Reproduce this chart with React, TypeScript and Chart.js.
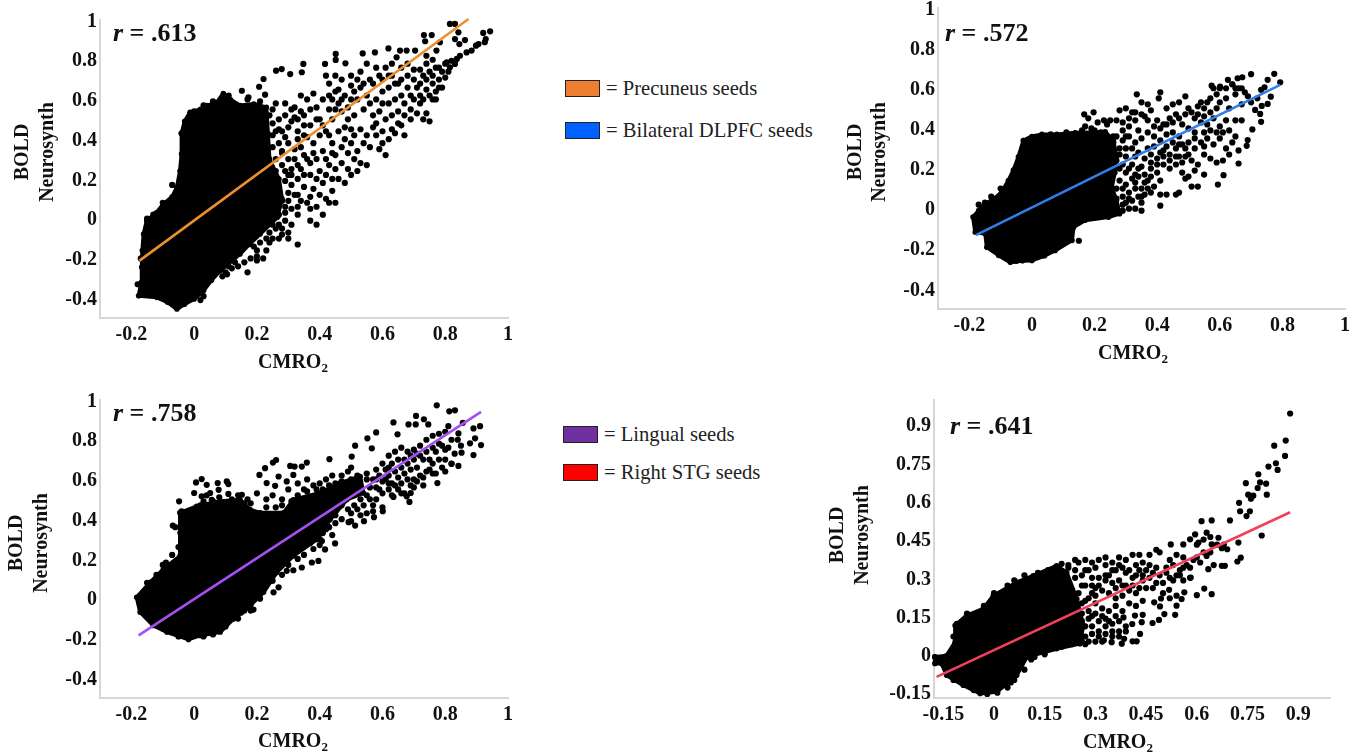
import React, { useEffect, useRef } from "react";
import { Chart, registerables } from "chart.js";

Chart.register(...registerables);

type Pair = number[];

const ticks02 = [-0.2, 0, 0.2, 0.4, 0.6, 0.8, 1];
const yTicks02 = [-0.4, -0.2, 0, 0.2, 0.4, 0.6, 0.8, 1];
const ticks015 = [-0.15, 0, 0.15, 0.3, 0.45, 0.6, 0.75, 0.9];

const legendLabels = ["= Precuneus seeds", "= Bilateral DLPFC seeds", "= Lingual seeds", "= Right STG seeds"];
const legendColors = ["#ed7d31", "#0061ff", "#7030a0", "#ff0000"];
const correlations = [".613", ".572", ".758", ".641"];

const p1LineX = [-0.174, 0.874];
const p1LineY = [-0.211, 1.005];
const p2LineX = [-0.179, 0.793];
const p2LineY = [-0.132, 0.617];
const p3LineX = [-0.177, 0.914];
const p3LineY = [-0.185, 0.94];
const p4LineX = [-0.17, 0.876];
const p4LineY = [-0.088, 0.557];

const p1Cloud: Pair[] = [[-.04,.43],[-.03,.49],[-.013,.535],[.02,.55],[.04,.57],[.07,.58],[.093,.63],[.115,.6],[.146,.57],[.19,.577],[.23,.56],[.235,.43],[.24,.3],[.27,.2],[.28,.1],[.265,.007],[.21,-.077],[.175,-.13],[.146,-.178],[.083,-.262],[.055,-.31],[.03,-.362],[0,-.404],[-.03,-.43],[-.055,-.455],[-.085,-.42],[-.119,-.396],[-.177,-.388],[-.168,-.32],[-.167,-.245],[-.165,-.16],[-.161,-.077],[-.151,-.01],[-.12,.03],[-.098,.074],[-.07,.11],[-.055,.158],[-.045,.24],[-.04,.326]];
const p1Dots: Pair[] = [[.943,.943],[.921,.935],[.929,.904],[.926,.888],[.906,.879],[.898,.871],[.884,.846],[.868,.837],[.847,.82],[.837,.804],[.82,.795],[.805,.787],[.815,.762],[.831,.779],[.863,.899],[.845,.879],[.842,.938],[.815,.98],[.831,.98],[.831,.904],[.757,.924],[.732,.924],[.736,.893],[.783,.888],[.772,.846],[.704,.846],[.677,.846],[.656,.846],[.645,.812],[.619,.857],[.576,.837],[.537,.832],[.451,.829],[.451,.799],[.482,.782],[.417,.779],[.348,.779],[.343,.737],[.306,.728],[.279,.753],[.261,.745],[.221,.703],[.207,.664],[.226,.624],[.152,.644],[.173,.611],
[.25,.55],[.27,.5],[.29,.58],[.31,.55],[.28,.44],[.3,.38],[.26,.3],[.29,.24],[.31,.17],[.27,.13],[.3,.09],[.33,.12],[.29,.03],[.31,-.03],[.28,-.08],[.33,-.13],[.3,.3],[.33,.44],[.34,.36],[.35,.52],[.36,.6],[.37,.47],[.34,.62],[.38,.63],[.39,.56],[.41,.6],[.43,.55],[.4,.5],[.42,.44],[.38,.38],[.36,.3],[.39,.3],[.41,.34],[.44,.38],[.37,.22],[.4,.24],[.43,.27],[.35,.16],[.38,.15],[.41,.18],[.44,.14],[.36,.08],[.39,.06],[.42,.1],[.37,-.01],[.39,-.03],[.41,.02],[.43,.68],[.45,.72],[.44,.6],[.42,.72],[.46,.65],[.48,.62],[.5,.67],[.52,.6],[.47,.54],[.49,.5],[.51,.52],[.53,.45],[.46,.44],[.48,.4],[.5,.38],[.52,.34],[.45,.32],[.47,.28],[.49,.25],[.46,.2],[.44,.2],[.54,.38],[.55,.27],[.52,.24],[.55,.42],[.54,.55],[.53,.74],[.55,.78],[.5,.72],[.47,.7],[.57,.68],[.59,.72],[.61,.76],[.63,.72],[.65,.68],[.58,.6],[.6,.64],[.62,.58],[.64,.6],[.66,.62],[.68,.66],[.7,.7],[.57,.52],[.59,.54],[.61,.5],[.63,.52],[.65,.48],[.67,.52],[.69,.55],[.58,.42],[.6,.44],[.62,.4],[.64,.43],[.67,.42],[.59,.35],[.61,.32],[.63,.78],[.66,.76],[.68,.72],[.7,.6],[.72,.58],[.73,.5],[.74,.53],[.75,.49],[.72,.75],[.74,.78],[.76,.8],[.78,.76],[.8,.78],[.72,.68],[.74,.7],[.76,.72],[.78,.7],[.72,.62],[.75,.62],[.77,.64],[.79,.66],[.8,.71],[.76,.6],[.74,.65],
[.32,.51],[.35,.42],[.32,.3],[.34,.25],[.33,.06],[.31,.22],[.28,.34],[.26,.44],[.24,.12],[.27,-.03],[.25,-.1],[.22,-.2],[.2,-.16],[.24,-.12],[.17,-.27],[.105,-.28],[.09,-.29],[.03,-.39],[.02,-.41],[-.07,.17],[-.04,.43],[-.17,-.2],[-.18,-.33],[-.15,.0],[-.13,.02],[-.1,.08],[.0,.54],[.03,.57],[.06,.59],[.11,.62],[.17,.6],[.21,.59],[-.02,.47],[.2,-.21],[.13,-.22],[.1,-.27],[.25,-.03],[.3,-.07]];
const p1Extra: Pair[] = [[.24,.52],[.26,.58],[.25,.48],[.27,.45],[.25,.42],[.27,.38],[.29,.41],[.25,.36],[.28,.33],[.26,.24],[.28,.27],[.3,.22],[.26,.18],[.29,.19],[.31,.25],[.32,.35],[.3,.46],[.31,.49],[.29,.52],[.33,.5],[.32,.56],[.34,.54],[.33,.4],[.35,.47],[.35,.32],[.33,.27],[.33,.2],[.35,.22],[.32,.12],[.28,.09],[.3,.13],[.34,.09],[.29,.06],[.31,.05],[.33,.02],[.27,.02],[.29,-.01],[.26,-.05],[.28,-.05],[.3,-.1],[.27,-.1],[.24,-.07],[.23,-.1],[.21,-.12],[.19,-.14],[.23,-.16],[.2,-.19],[.18,-.2],[.16,-.22],[.14,-.24],[.12,-.25],[.11,-.24],
[.37,.55],[.39,.5],[.41,.47],[.4,.42],[.43,.42],[.36,.41],[.38,.33],[.37,.28],[.42,.3],[.44,.33],[.39,.2],[.42,.22],[.45,.25],[.4,.12],[.43,.08],[.37,.11],[.37,.05],[.45,.08],[.44,.5],[.45,.55],[.43,.62],[.45,.64],[.46,.58],[.47,.6],[.49,.56],[.5,.6],[.51,.64],[.53,.66],[.55,.62],[.56,.7],[.54,.68],[.52,.7],[.48,.46],[.5,.45],[.51,.42],[.47,.36],[.49,.33],[.51,.3],[.53,.28],[.48,.18],[.5,.22],[.56,.58],[.57,.46],[.56,.36],[.58,.48],[.6,.58],[.62,.66],[.64,.68],[.66,.7],[.6,.7],[.58,.76],[.62,.72],[.67,.58],[.65,.54],[.63,.45],[.66,.47],[.6,.38],[.69,.62],[.71,.66],[.73,.72],[.75,.74],[.77,.76],[.7,.75],[.79,.74],[.81,.74],[.68,.78],[.74,.82],[.69,.5],[.71,.53],[.76,.68],[.78,.66],[.73,.6],[.77,.6]];

const p2Cloud: Pair[] = [[-.027,.34],[.0,.36],[.032,.37],[.08,.37],[.138,.378],[.19,.38],[.234,.383],[.26,.34],[.27,.26],[.265,.18],[.255,.108],[.27,.04],[.28,-.025],[.245,-.042],[.17,-.058],[.133,-.092],[.128,-.158],[.074,-.208],[.04,-.235],[0,-.258],[-.03,-.26],[-.069,-.267],[-.106,-.233],[-.144,-.192],[-.149,-.125],[-.181,-.117],[-.188,-.042],[-.17,-.01],[-.149,.025],[-.12,.05],[-.096,.083],[-.075,.14],[-.059,.192],[-.043,.258]];
const p2Dots: Pair[] = [[.774,.672],[.7,.67],[.793,.63],[.753,.642],[.743,.605],[.732,.592],[.763,.558],[.753,.522],[.734,.512],[.713,.492],[.729,.472],[.732,.433],[.704,.395],[.689,.342],[.686,.313],[.66,.225],[.612,.167],[.594,.12],[.626,.642],[.657,.65],[.672,.655],[.574,.613],[.601,.608],[.64,.62],[.65,.6],
[.167,.47],[.197,.48],[.21,.43],[.17,.41],[.19,.4],[.22,.38],[.24,.42],[.27,.44],[.28,.49],[.3,.5],[.32,.48],[.335,.57],[.35,.53],[.37,.52],[.36,.46],[.33,.44],[.31,.41],[.29,.39],[.34,.39],[.38,.49],[.41,.58],[.405,.55],[.43,.5],[.45,.52],[.47,.53],[.49,.56],[.4,.44],[.42,.42],[.44,.45],[.46,.47],[.48,.42],[.37,.38],[.39,.36],[.41,.34],[.43,.37],[.45,.38],[.47,.36],[.5,.4],[.52,.45],[.53,.51],[.55,.5],[.57,.55],[.58,.6],[.6,.6],[.6,.53],[.62,.55],[.63,.5],[.65,.57],[.66,.6],[.68,.58],[.67,.52],[.7,.53],[.72,.55],[.54,.43],[.56,.42],[.58,.45],[.6,.41],[.62,.44],[.65,.44],[.67,.44],[.5,.33],[.52,.3],[.54,.33],[.56,.35],[.58,.32],[.6,.35],[.62,.3],[.64,.33],[.65,.36],[.63,.27],[.66,.29],[.49,.26],[.51,.24],[.53,.22],[.55,.27],[.57,.25],[.59,.23],[.61,.24],[.46,.3],[.44,.27],[.42,.29],[.4,.25],[.38,.27],[.36,.25],[.34,.28],[.32,.3],[.3,.26],[.28,.3],[.46,.22],[.44,.2],[.42,.22],[.4,.18],[.38,.2],[.36,.17],[.34,.2],[.32,.22],[.3,.18],[.28,.2],[.48,.18],[.5,.16],[.52,.19],[.55,.17],[.53,.11],[.51,.11],[.49,.15],[.41,.14],[.39,.11],[.37,.14],[.35,.1],[.33,.13],[.31,.08],[.29,.1],[.47,.08],[.46,.07],[.43,.07],[.41,.07],[.38,.08],[.36,.07],[.34,.06],[.32,.04],[.3,.03],[.35,.03],[.41,.015],[.35,-.01],[.31,.0],[.29,.02],[.27,.05],
[-.17,.02],[-.13,.06],[-.15,.03],[.15,-.16],[.06,.37],[.11,.38],[.16,.39],[.2,.39],[.26,.36],[-.1,.1],[-.14,-.17],[-.05,-.26]];
const p2Extra: Pair[] = [[.26,.33],[.28,.27],[.29,.34],[.31,.36],[.33,.33],[.35,.35],[.3,.3],[.33,.26],[.27,.24],[.29,.22],[.31,.2],[.33,.17],[.35,.21],[.37,.3],[.39,.31],[.41,.28],[.43,.31],[.45,.33],[.47,.32],[.49,.3],[.38,.23],[.4,.22],[.42,.26],[.44,.24],[.46,.26],[.48,.23],[.36,.13],[.38,.16],[.34,.16],[.32,.15],[.3,.12],[.28,.14],[.27,.1],[.29,.06],[.31,.05],[.33,.1],[.35,.06],[.37,.1],[.27,.01],[.29,-.01],[.33,.0],[.3,.36],[.27,.36],[.29,.43],[.31,.45],[.33,.48],[.35,.47],[.37,.44],[.39,.41],[.41,.4],[.43,.42],[.45,.43],[.47,.45],[.49,.47],[.51,.48],[.53,.47],[.55,.46],[.57,.48],[.59,.5],[.5,.5],[.54,.53],[.56,.53],[.59,.57],[.62,.6],[.64,.62],[.67,.6],[.69,.56],[.52,.38],[.55,.38],[.57,.39],[.59,.38],[.61,.38],[.63,.39],[.48,.32],[.5,.27],[.52,.35],[.55,.31],[.47,.26],[.18,.45],[.23,.44],[.25,.44]];

const p3Cloud: Pair[] = [[-.045,.432],[.008,.465],[.083,.49],[.146,.498],[.178,.448],[.21,.432],[.285,.432],[.316,.498],[.401,.532],[.465,.582],[.529,.615],[.539,.532],[.486,.498],[.433,.398],[.391,.298],[.316,.215],[.263,.132],[.221,.032],[.178,-.035],[.125,-.102],[.083,-.168],[.019,-.185],[-.018,-.205],[-.087,-.168],[-.13,-.135],[-.172,-.068],[-.183,.007],[-.14,.082],[-.098,.148],[-.045,.215],[-.045,.332]];
const p3Dots: Pair[] = [[.773,.973],[.813,.943],[.831,.948],[.707,.92],[.732,.903],[.746,.877],[.683,.877],[.635,.887],[.706,.877],[.58,.837],[.648,.827],[.552,.807],[.513,.77],[.566,.757],[.502,.715],[.431,.702],[.359,.685],[.343,.665],[.306,.668],[.32,.665],[.261,.698],[.251,.685],[.226,.657],[.208,.623],[.269,.615],[.258,.568],[.231,.582],[.295,.59],[.316,.623],[.024,.602],[.006,.585],[.04,.573],[.075,.582],[.104,.59],[.109,.577],[.078,.548],[.051,.532],[0,.532],[.024,.515],[.109,.527],[-.048,.49],[.152,.523],[.056,.498],[-.068,.368],[-.09,.182],
[.911,.868],[.89,.857],[.856,.885],[.842,.832],[.81,.868],[.895,.807],[.879,.782],[.914,.773],[.89,.723],[.852,.735],[.842,.668],[.82,.678],[.775,.582],[.686,.487],[.677,.515],[.69,.532],[.635,.512],[.601,.44],[.573,.41],[.541,.39],[.513,.368],[.492,.385],[.449,.278],[.407,.29],[.417,.248],[.396,.19],[.375,.182],[.343,.157],[.316,.143],[.295,.14],[.269,.057],[.253,.032],[.189,-.055],
[.52,.62],[.55,.63],[.58,.65],[.6,.68],[.62,.72],[.64,.74],[.66,.76],[.68,.74],[.7,.75],[.72,.77],[.74,.8],[.76,.82],[.78,.83],[.8,.84],[.62,.62],[.64,.64],[.66,.66],[.68,.68],[.7,.7],[.72,.72],[.74,.74],[.76,.76],[.78,.78],[.8,.75],[.82,.8],[.84,.8],[.85,.77],[.78,.7],[.8,.7],[.76,.68],[.74,.64],[.72,.62],[.7,.6],[.68,.6],[.66,.58],[.64,.57],[.62,.55],[.6,.53],[.58,.5],[.56,.5],[.54,.47],[.52,.45],[.5,.43],[.55,.43],[.57,.47],[.59,.55],[.61,.6],[.63,.58],[.65,.55],[.67,.53],[.69,.57],[.71,.59],[.73,.61],[.75,.65],[.77,.63],
[.36,.6],[.38,.57],[.4,.58],[.42,.6],[.44,.62],[.47,.62],[.49,.64],[.5,.66],[.3,.55],[.33,.58],[.35,.55],[.28,.5],[.25,.52],[.23,.5],[.2,.53],[.18,.48],[.16,.48],[.12,.5],[.08,.51],[.03,.49],[.45,.42],[.47,.4],[.42,.35],[.44,.32],[.4,.3],[.38,.25],[.35,.22],[.33,.2],[.3,.17],[.28,.12]];
const p3Extra: Pair[] = [[.17,.5],[.14,.52],[.1,.47],[.06,.49],[.04,.52],[.02,.47],[.23,.46],[.26,.46],[.28,.47],[.31,.49],[.33,.52],[.36,.54],[.39,.55],[.41,.55],[.43,.57],[.45,.58],[.47,.59],[.5,.6],[.52,.58],[.55,.6],[.57,.6],[.59,.62],[.61,.65],[.63,.68],[.65,.7],[.67,.7],[.69,.72],[.71,.73],[.73,.7],[.75,.7],[.77,.74],[.79,.77],[.81,.76],[.83,.73],[.58,.56],[.6,.59],[.62,.58],[.55,.52],[.53,.5],[.51,.47],[.49,.45],[.47,.47],[.45,.38],[.43,.36],[.41,.33],[.4,.27],[.37,.28],[.34,.26],[.31,.22],[.29,.19],[.27,.16],[.25,.09],[.23,.07],[.21,.0],[.18,-.03],[.15,-.07],[.62,.66],[.58,.6],[.56,.56],[.63,.52],[.66,.53],[.7,.56],[.73,.57],[.76,.63],[.79,.66],[.82,.68],[.8,.64],[.71,.66],[.69,.65],[.67,.63],[.65,.61],[.6,.46],[.57,.44],[.53,.42],[.5,.39],[-.06,.36],[-.04,.44],[-.05,.26],[-.07,.22],[-.1,.17],[-.12,.12],[-.15,.08],[.1,-.14],[.06,-.18],[.03,-.19],[-.05,-.19],[-.1,-.15],[.14,-.1],[.16,-.06],[.18,-.06]];

const p4Cloud: Pair[] = [[-.175,-.01],[-.14,-.005],[-.115,.048],[-.115,.113],[-.081,.152],[-.032,.178],[-.002,.23],[.067,.282],[.116,.308],[.185,.347],[.215,.321],[.245,.217],[.264,.113],[.254,.042],[.185,.022],[.097,-.01],[.067,-.082],[.008,-.147],[-.041,-.153],[-.091,-.121],[-.14,-.082],[-.155,-.036],[-.175,-.036]];
const p4Dots: Pair[] = [[.876,.944],[.863,.838],[.829,.818],[.861,.778],[.834,.749],[.812,.736],[.839,.723],[.782,.706],[.745,.671],[.787,.674],[.805,.669],[.78,.652],[.807,.626],[.752,.626],[.767,.622],[.76,.61],[.725,.594],[.728,.561],[.757,.561],[.747,.542],[.698,.525],[.644,.525],[.614,.522],[.792,.466],[.723,.438],[.73,.379],[.72,.364],[.683,.347],[.674,.347],[.664,.457],[.69,.412],[.674,.416],[.644,.431],[.629,.477],[.605,.438],[.595,.47],[.58,.451],[.56,.431],[.523,.431],[.629,.386],[.634,.334],[.582,.301],[.644,.236],[.622,.258],[.6,.232],[.563,.243],[.555,.217],[.54,.191],[.536,.155],[.504,.158],[.488,.135],[.469,.123],[.491,.188],[.494,.219],[.474,.204],[.518,.253],[.422,.051],[.41,.051],[.378,.042],[.385,.061],[.432,.08],[.417,.152],[.44,.155],[.409,.119],[.437,.126],[.383,.145],[.348,.048],[.325,.055],
[.25,.36],[.27,.37],[.29,.36],[.31,.37],[.33,.38],[.35,.36],[.37,.38],[.39,.37],[.41,.39],[.43,.39],[.46,.39],[.48,.41],[.49,.4],[.52,.37],[.54,.39],[.56,.38],[.24,.33],[.27,.33],[.3,.34],[.33,.35],[.36,.33],[.38,.34],[.4,.33],[.42,.35],[.44,.36],[.46,.35],[.48,.34],[.51,.34],[.53,.35],[.55,.33],[.57,.35],[.59,.37],[.42,.31],[.44,.31],[.46,.3],[.48,.28],[.5,.28],[.52,.3],[.54,.31],[.56,.29],[.58,.34],[.29,.3],[.31,.3],[.33,.29],[.35,.28],[.37,.29],[.39,.27],[.41,.27],[.43,.26],[.45,.26],[.27,.27],[.3,.26],[.32,.25],[.34,.24],[.36,.22],[.38,.23],[.28,.22],[.3,.2],[.32,.18],[.34,.17],[.36,.19],[.38,.17],[.4,.2],[.42,.19],[.44,.21],[.29,.15],[.31,.13],[.33,.14],[.35,.12],[.37,.13],[.39,.11],[.27,.11],[.29,.08],[.31,.09],[.33,.08],[.35,.07],[.37,.09],[.39,.09],[.26,.16],[.28,.05],[.3,.05],[.32,.05],[.26,.05],[.24,.08],[.22,.06],[.2,.03],[.16,.02],
[.06,.29],[.09,.31],[.13,.32],[.16,.33],[.2,.355],[.22,.34],[.04,.27],[.0,.24],[-.03,.19],[-.08,.16],[-.11,.12],[-.12,.07],[.12,-.01],[.08,-.04],[.1,.0],[.05,-.11],[-.02,-.155],[-.06,-.14],[-.12,-.1]];
const p4Extra: Pair[] = [[.22,.35],[.24,.37],[.26,.31],[.28,.33],[.29,.27],[.24,.3],[.26,.27],[.25,.24],[.27,.21],[.29,.24],[.26,.2],[.28,.17],[.3,.23],[.31,.27],[.33,.31],[.35,.33],[.37,.35],[.39,.32],[.41,.3],[.34,.31],[.36,.26],[.38,.27],[.4,.25],[.42,.24],[.3,.16],[.32,.15],[.34,.13],[.36,.15],[.28,.14],[.26,.13],[.25,.09],[.27,.07],[.29,.11],[.31,.07],[.33,.11],[.35,.09],[.37,.07],[.25,.06],[.23,.04],[.21,.05],[.19,.04],[.27,.04],[.15,.0],[.13,.01],[.11,-.02],[.09,-.06],[.06,-.1],[.04,-.13],[.01,-.15],[.43,.33],[.45,.33],[.47,.32],[.49,.31],[.51,.32],[.53,.29],[.55,.31],[.44,.29],[.47,.26],[.5,.24],[.52,.22],[.54,.23],[.56,.34],[.58,.3],[.6,.38],[.62,.4],[.6,.43],[.62,.45],[.64,.46],[.66,.43],[.68,.43],[.64,.4],[.61,.36],[.65,.35]];

type TextMark = { x: number; y: number };
type Panel = {
  left: number; top: number; width: number; height: number;
  area: { left: number; top: number; right: number; bottom: number };
  xMin: number; xMax: number; yMin: number; yMax: number;
  xTicks: number[]; yTicks: number[];
  cloud: Pair[]; dots: Pair[]; lineX: number[]; lineY: number[]; lineColor: string;
  r: string; rPos: TextMark; boldX: number; neuroX: number; yMid: number; xMid: number; xBase: number;
};

const panels: Panel[] = [
  { left: 0, top: 0, width: 525, height: 380, area: { left: 100, top: 20, right: 508, bottom: 318 },
    xMin: -0.3, xMax: 1, yMin: -0.5, yMax: 1, xTicks: ticks02, yTicks: yTicks02,
    cloud: p1Cloud, dots: [...p1Dots, ...p1Extra], lineX: p1LineX, lineY: p1LineY, lineColor: "#ee8f2f",
    r: correlations[0], rPos: { x: 113, y: 41 }, boldX: 23, neuroX: 48, yMid: 152, xMid: 293, xBase: 368 },
  { left: 840, top: -12, width: 525, height: 382, area: { left: 938, top: 8, right: 1345, bottom: 309 },
    xMin: -0.3, xMax: 1, yMin: -0.5, yMax: 1, xTicks: ticks02, yTicks: yTicks02,
    cloud: p2Cloud, dots: [...p2Dots, ...p2Extra], lineX: p2LineX, lineY: p2LineY, lineColor: "#2f7fe8",
    r: correlations[1], rPos: { x: 945, y: 41 }, boldX: 856, neuroX: 880, yMid: 152, xMid: 1133, xBase: 359 },
  { left: 0, top: 385, width: 525, height: 369, area: { left: 100, top: 398, right: 508, bottom: 698 },
    xMin: -0.3, xMax: 1, yMin: -0.5, yMax: 1, xTicks: ticks02, yTicks: yTicks02,
    cloud: p3Cloud, dots: [...p3Dots, ...p3Extra], lineX: p3LineX, lineY: p3LineY, lineColor: "#a64ff0",
    r: correlations[2], rPos: { x: 113, y: 421 }, boldX: 17, neuroX: 42, yMid: 543, xMid: 293, xBase: 747 },
  { left: 820, top: 385, width: 545, height: 369, area: { left: 934, top: 398, right: 1330, bottom: 698 },
    xMin: -0.1775, xMax: 0.994, yMin: -0.171, yMax: 0.997, xTicks: ticks015, yTicks: ticks015,
    cloud: p4Cloud, dots: [...p4Dots, ...p4Extra], lineX: p4LineX, lineY: p4LineY, lineColor: "#f0405c",
    r: correlations[3], rPos: { x: 950, y: 434 }, boldX: 838, neuroX: 863, yMid: 535, xMid: 1118, xBase: 748 },
];

const SERIF = '"Liberation Serif", "Times New Roman", serif';

function toPoints(pairs: Pair[]) {
  return pairs.map(([x, y]) => ({ x, y }));
}

function PanelChart({ panel }: { panel: Panel }) {
  const ref = useRef<HTMLCanvasElement | null>(null);
  useEffect(() => {
    if (!ref.current) return;
    const { area, left, top, width, height } = panel;
    const textPlugin = {
      id: "panelText",
      beforeDraw(chart: any) {
        chart.scales.y.getLabelItems().forEach((item: any) => {
          if (!item.nudged) {
            item.options.translation[1] += 1.5;
            item.nudged = true;
          }
        });
      },
      afterDraw(chart: any) {
        const c = chart.ctx;
        c.save();
        c.fillStyle = "#111";
        c.textBaseline = "alphabetic";
        c.textAlign = "left";
        c.font = `italic bold 26px ${SERIF}`;
        const rx = panel.rPos.x - left;
        const ry = panel.rPos.y - top;
        c.fillText("r", rx, ry);
        const w = c.measureText("r").width;
        c.font = `bold 26px ${SERIF}`;
        c.fillText(` = ${panel.r}`, rx + w, ry);

        c.font = `bold 20px ${SERIF}`;
        const mainW = c.measureText("CMRO").width;
        c.font = `bold 13px ${SERIF}`;
        const subW = c.measureText("2").width;
        const sx = panel.xMid - left - (mainW + subW) / 2;
        c.font = `bold 20px ${SERIF}`;
        c.fillText("CMRO", sx, panel.xBase - top);
        c.font = `bold 13px ${SERIF}`;
        c.fillText("2", sx + mainW, panel.xBase - top + 4);

        c.font = `bold 20px ${SERIF}`;
        c.textAlign = "center";
        c.textBaseline = "middle";
        [["BOLD", panel.boldX], ["Neurosynth", panel.neuroX]].forEach(([t, x]) => {
          c.save();
          c.translate((x as number) - left, panel.yMid - top);
          c.rotate(-Math.PI / 2);
          c.fillText(t as string, 0, 0);
          c.restore();
        });
        c.restore();
      },
    };
    const axis = (min: number, max: number, values: number[], fit: (s: any) => void, pad: number) => ({
      type: "linear" as const,
      min,
      max,
      afterBuildTicks(s: any) {
        s.ticks = values.map((value) => ({ value }));
      },
      afterFit: fit,
      grid: { display: false, drawTicks: false, drawOnChartArea: false },
      border: { display: true, color: "#d6d6d6", width: 2 },
      ticks: {
        autoSkip: false,
        maxRotation: 0,
        minRotation: 0,
        padding: pad,
        color: "#111",
        font: { family: SERIF, size: 20, weight: "bold" as const },
        callback: (v: any) => String(Math.round(Number(v) * 100) / 100),
      },
    });
    const chart = new Chart(ref.current, {
      type: "scatter",
      data: {
        datasets: [
          {
            label: "Dense cloud",
            data: toPoints([...panel.cloud, panel.cloud[0]]),
            showLine: true,
            fill: "shape",
            tension: 0,
            backgroundColor: "#000",
            borderColor: "#000",
            borderWidth: 4,
            borderJoinStyle: "round",
            pointRadius: 2.8,
            pointBackgroundColor: "#000",
            pointBorderWidth: 0,
            clip: false,
            order: 3,
          },
          {
            label: "Seeds",
            data: toPoints(panel.dots),
            backgroundColor: "#000",
            borderWidth: 0,
            pointRadius: 3.1,
            clip: false,
            order: 2,
          },
          {
            label: "Fit",
            data: panel.lineX.map((x, i) => ({ x, y: panel.lineY[i] })),
            showLine: true,
            borderColor: panel.lineColor,
            borderWidth: 2.6,
            pointRadius: 0,
            clip: false,
            order: 1,
          },
        ],
      } as any,
      options: {
        animation: false,
        responsive: false,
        maintainAspectRatio: false,
        layout: {
          padding: { left: 0, top: area.top - top, right: left + width - area.right, bottom: 0 },
        },
        plugins: { legend: { display: false }, tooltip: { enabled: false }, title: { display: false } },
        scales: {
          x: axis(panel.xMin, panel.xMax, panel.xTicks, (s: any) => { s.height = top + height - area.bottom; }, 5),
          y: axis(panel.yMin, panel.yMax, panel.yTicks, (s: any) => { s.width = area.left - left; }, 3),
        },
      } as any,
      plugins: [textPlugin],
    });
    return () => chart.destroy();
  }, [panel]);
  return (
    <canvas
      ref={ref}
      width={panel.width}
      height={panel.height}
      style={{ position: "absolute", left: panel.left, top: panel.top, width: panel.width, height: panel.height }}
    />
  );
}

const legendTops = [80, 122, 426, 464];
const legendLefts = [565, 565, 563, 563];

export default function App() {
  return (
    <div style={{ position: "fixed", left: 0, top: 0, width: 1365, height: 754, background: "#fff", overflow: "hidden", filter: "blur(0.5px)" }}>
      {panels.map((p, i) => (
        <PanelChart key={i} panel={p} />
      ))}
      {legendLabels.map((label, i) => (
        <div key={label} style={{ position: "absolute", left: legendLefts[i], top: legendTops[i], display: "flex", alignItems: "center", height: 17, whiteSpace: "nowrap" }}>
          <span style={{ display: "inline-block", boxSizing: "border-box", width: 35, height: 17, background: legendColors[i], border: "1.5px solid #222", marginRight: 6 }} />
          <span style={{ fontFamily: SERIF, fontSize: 20.6, color: "#222" }}>{label}</span>
        </div>
      ))}
    </div>
  );
}
